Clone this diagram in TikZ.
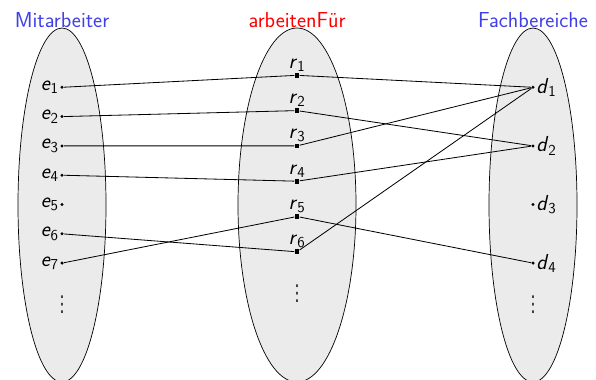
\documentclass[tikz,border=0pt]{standalone}
\usepackage{fontspec}
\usepackage{graphicx}
\renewcommand{\familydefault}{\sfdefault}
\newfontfamily\punktfont{DejaVu Sans}
\usetikzlibrary{positioning}
\definecolor{mengeblau}{RGB}{64,64,230}
\definecolor{mengegrau}{RGB}{235,235,235}
\newcommand{\vpunkte}{\scalebox{0.7}[1.1]{\punktfont\fontsize{17}{20}\selectfont ⋮}}
\newcommand{\elem}[2]{\textit{#1}\textsubscript{#2}}

\begin{document}
\begin{tikzpicture}[x=0.03cm, y=-0.03cm, font=\fontsize{18.5}{22}\selectfont,
        menge/.style={draw, semithick, fill=mengegrau},
        punkt/.style={circle, fill, inner sep=0pt, minimum size=2.8pt},
        quadrat/.style={rectangle, fill, inner sep=0pt, minimum size=4pt},
        beschr/.style={inner sep=1pt},
        titel/.style={anchor=base, inner sep=0pt},
        bez/.style={line width=0.7pt}]
        \useasboundingbox (0,0) rectangle (596,379);

        % die drei Mengen
        \draw[menge] (62,205) ellipse [x radius=44, y radius=177];
        \draw[menge] (297,205) ellipse [x radius=59, y radius=177];
        \draw[menge] (533,205) ellipse [x radius=44, y radius=177];

        \node[titel, text=mengeblau] (mit) at (62,27.5) {Mitarbeiter};
        \node[titel, text=red] (arb) at (297,27) {arbeitenF\"ur};
        \node[titel, text=mengeblau] (fach) at (533,27.5) {Fachbereiche};

        % Mitarbeiter
        \node[punkt, label={[beschr]left:\elem{e}{1}}] (e1) at (62,87.3) {};
        \node[punkt, label={[beschr]left:\elem{e}{2}}] (e2) at (62,116.6) {};
        \node[punkt, label={[beschr]left:\elem{e}{3}}] (e3) at (62,145.9) {};
        \node[punkt, label={[beschr]left:\elem{e}{4}}] (e4) at (62,175.2) {};
        \node[punkt, label={[beschr]left:\elem{e}{5}}] (e5) at (62,204.5) {};
        \node[punkt, label={[beschr]left:\elem{e}{6}}] (e6) at (62,233.8) {};
        \node[punkt, label={[beschr]left:\elem{e}{7}}] (e7) at (62,263.1) {};
        \node (evd) at (62,305) {\vpunkte};

        % arbeitenFuer
        \node[quadrat, label={[beschr]above:\elem{r}{1}}] (r1) at (297,75.3) {};
        \node[quadrat, label={[beschr]above:\elem{r}{2}}] (r2) at (297,110.6) {};
        \node[quadrat, label={[beschr]above:\elem{r}{3}}] (r3) at (297,145.9) {};
        \node[quadrat, label={[beschr]above:\elem{r}{4}}] (r4) at (297,181.2) {};
        \node[quadrat, label={[beschr]above:\elem{r}{5}}] (r5) at (297,216.5) {};
        \node[quadrat, label={[beschr]above:\elem{r}{6}}] (r6) at (297,251.8) {};
        \node (rvd) at (297,294) {\vpunkte};

        % Fachbereiche
        \node[punkt, label={[beschr]right:\elem{d}{1}}] (d1) at (533,87.3) {};
        \node[punkt, label={[beschr]right:\elem{d}{2}}] (d2) at (533,145.9) {};
        \node[punkt, label={[beschr]right:\elem{d}{3}}] (d3) at (533,204.5) {};
        \node[punkt, label={[beschr]right:\elem{d}{4}}] (d4) at (533,263.1) {};
        \node (dvd) at (533,305) {\vpunkte};

        % Beziehungen
        \draw[bez] (e1) -- (r1) -- (d1);
        \draw[bez] (e2) -- (r2) -- (d2);
        \draw[bez] (e3) -- (r3) -- (d1);
        \draw[bez] (e4) -- (r4) -- (d2);
        \draw[bez] (e6) -- (r6) -- (d1);
        \draw[bez] (e7) -- (r5) -- (d4);
\end{tikzpicture}
\end{document}
